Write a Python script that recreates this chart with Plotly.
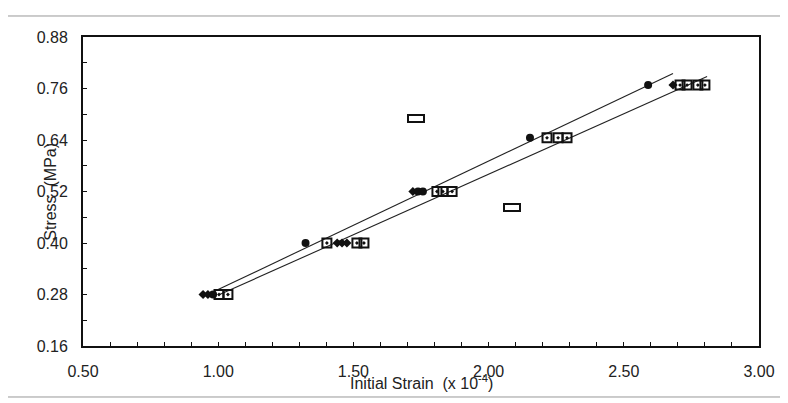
import plotly.graph_objects as go

# data (initial strain x1e-4, stress MPa)
diamond_x = [0.944, 0.962, 1.440, 1.458, 1.476, 1.720, 2.682]
diamond_y = [0.280, 0.280, 0.400, 0.400, 0.400, 0.520, 0.768]
circle_x = [0.981, 1.323, 1.739, 1.757, 2.153, 2.590]
circle_y = [0.280, 0.400, 0.520, 0.520, 0.645, 0.768]
square_x = [1.003, 1.036, 1.402, 1.513, 1.539, 1.809, 1.831, 1.865,
            2.216, 2.257, 2.290, 2.708, 2.734, 2.774, 2.800]
square_y = [0.280, 0.280, 0.400, 0.400, 0.400, 0.520, 0.520, 0.520,
            0.645, 0.645, 0.645, 0.768, 0.768, 0.768, 0.768]
outlier_x = [1.731, 2.087]
outlier_y = [0.690, 0.483]
fit1_x = [0.988, 2.682]
fit1_y = [0.288, 0.795]
fit2_x = [0.999, 2.808]
fit2_y = [0.278, 0.788]

x_ticks = [0.5, 1.0, 1.5, 2.0, 2.5, 3.0]
y_ticks = [0.16, 0.28, 0.40, 0.52, 0.64, 0.76, 0.88]

fig = go.Figure()
fig.add_trace(go.Scatter(x=fit1_x, y=fit1_y, mode="lines",
                         line=dict(color="#222", width=1.1), showlegend=False))
fig.add_trace(go.Scatter(x=fit2_x, y=fit2_y, mode="lines",
                         line=dict(color="#222", width=1.1), showlegend=False))
fig.add_trace(go.Scatter(x=square_x, y=square_y, mode="markers",
                         marker=dict(symbol="square-open-dot", size=9, color="#111",
                                     line=dict(width=2, color="#111")), showlegend=False))
fig.add_trace(go.Scatter(x=diamond_x, y=diamond_y, mode="markers",
                         marker=dict(symbol="diamond", size=7, color="#111"), showlegend=False))
fig.add_trace(go.Scatter(x=circle_x, y=circle_y, mode="markers",
                         marker=dict(symbol="circle", size=8, color="#111"), showlegend=False))

annotations = []
for ox, oy in zip(outlier_x, outlier_y):
    annotations.append(dict(x=ox, y=oy, xref="x", yref="y", text=" ", showarrow=False,
                            width=14, height=5, bordercolor="#111", borderwidth=2,
                            borderpad=0, font=dict(size=4)))
annotations.append(dict(x=0.5, y=0, xref="paper", yref="paper", yshift=-36,
                        yanchor="middle", showarrow=False,
                        text="Initial Strain  (x 10<sup>-4</sup>)",
                        font=dict(family="Liberation Sans", size=16, color="#222")))
annotations.append(dict(x=-0.064, y=0.5, xref="paper", yref="paper", textangle=-90,
                        showarrow=False, text="Stress  (MPa)",
                        font=dict(family="Liberation Sans", size=16, color="#222")))
fig.update_layout(annotations=annotations)

fig.add_shape(type="rect", xref="paper", yref="paper", x0=-0.112, x1=1.036,
              y0=-0.165, y1=1.068, line=dict(color="#999", width=1))

fig.update_layout(
    width=788, height=403,
    margin=dict(l=75, r=37, t=29, b=65),
    paper_bgcolor="white", plot_bgcolor="white",
    font=dict(family="Liberation Sans", size=16, color="#222"),
)
fig.update_xaxes(range=[0.5, 3.0], tickvals=x_ticks, ticktext=[f"{v:.2f}" for v in x_ticks],
                 showgrid=False, zeroline=False, showline=True, linecolor="#111",
                 linewidth=2, mirror=True, ticks="inside", ticklen=4, tickcolor="#111",
                 ticklabelstandoff=10,
                 minor=dict(dtick=0.1, tick0=0.5, ticks="inside", ticklen=4, tickcolor="#111"))
fig.update_yaxes(range=[0.16, 0.88], tickvals=y_ticks, ticktext=[f"{v:.2f}" for v in y_ticks],
                 showgrid=False, zeroline=False, showline=True, linecolor="#111",
                 linewidth=2, mirror=True, ticks="inside", ticklen=4, tickcolor="#111",
                 ticklabelstandoff=10,
                 minor=dict(dtick=0.06, tick0=0.16, ticks="inside", ticklen=4, tickcolor="#111"))

fig.write_html("out.html")
